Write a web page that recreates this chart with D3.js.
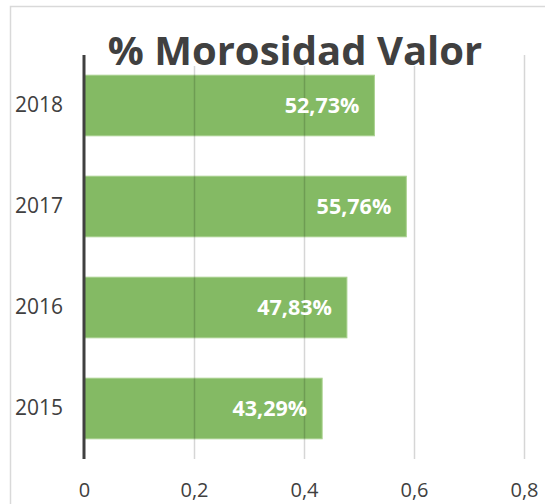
<!DOCTYPE html>
<html>
<head>
<meta charset="utf-8">
<script src="https://cdn.jsdelivr.net/npm/d3@7"></script>
<style>
  body { margin: 0; background: #fff; }
  text { font-family: "Open Sans", sans-serif; }
</style>
</head>
<body>
<svg width="545" height="504"></svg>
<script>
// data
var years = ["2018", "2017", "2016", "2015"];
var barValues = [0.528, 0.586, 0.478, 0.433];
var barLabels = ["52,73%", "55,76%", "47,83%", "43,29%"];
var xTicks = [0, 0.2, 0.4, 0.6, 0.8];
var title = "% Morosidad Valor";

var svg = d3.select("svg"),
  width = +svg.attr("width"),
  height = +svg.attr("height");

var rows = years.map(function(y, i) {
  return { year: y, value: barValues[i], label: barLabels[i] };
});

var x = d3.scaleLinear().domain([0, 0.8]).range([84, 524]);
var y = d3.scaleBand().domain(years).range([55, 459])
  .paddingInner(0.4).paddingOuter(0.2);

var es = d3.formatLocale({ decimal: ",", thousands: ".", grouping: [3], currency: ["", "€"] });
var fmt = es.format("~g");

// chart border
svg.append("rect")
  .attr("x", 10.5).attr("y", 6.5)
  .attr("width", width + 10).attr("height", height + 10)
  .attr("fill", "#fff")
  .attr("stroke", "#d9d9d9")
  .attr("stroke-width", 1.5);

// bars
svg.append("g")
  .selectAll("rect")
  .data(rows)
  .enter()
  .append("rect")
  .attr("x", x(0))
  .attr("y", function(d) { return y(d.year); })
  .attr("width", function(d) { return x(d.value) - x(0); })
  .attr("height", y.bandwidth())
  .attr("fill", "#84ba64")
  .attr("stroke", "#a9d18e")
  .attr("stroke-width", 1);

// gridlines + tick labels, drawn over the bars like the original
var xAxis = svg.append("g")
  .attr("transform", "translate(0,459)")
  .call(d3.axisBottom(x).tickValues(xTicks).tickFormat(fmt)
    .tickSizeInner(-404).tickSizeOuter(0).tickPadding(24));
xAxis.select(".domain").remove();
xAxis.selectAll(".tick line")
  .attr("stroke", "#000")
  .attr("stroke-opacity", function(d) { return d === 0 ? 0 : 0.16; })
  .attr("stroke-width", 1.5);
xAxis.selectAll(".tick text")
  .attr("fill", "#404040")
  .style("font-size", "20px")
  .style("font-family", "'Open Sans', sans-serif");

// value axis line at zero
svg.append("line")
  .attr("x1", x(0)).attr("x2", x(0))
  .attr("y1", 55).attr("y2", 459)
  .attr("stroke", "#404040")
  .attr("stroke-width", 3);

// year labels
var yAxis = svg.append("g")
  .attr("transform", "translate(63,0)")
  .call(d3.axisLeft(y).tickSize(0).tickPadding(0));
yAxis.select(".domain").remove();
yAxis.selectAll(".tick text")
  .attr("fill", "#404040")
  .style("font-size", "21px")
  .style("font-family", "'Open Sans', sans-serif");

// value labels inside bars
svg.append("g")
  .selectAll("text")
  .data(rows)
  .enter()
  .append("text")
  .attr("x", function(d) { return x(d.value) - 15; })
  .attr("y", function(d) { return y(d.year) + y.bandwidth() / 2; })
  .attr("dy", "0.36em")
  .attr("text-anchor", "end")
  .attr("fill", "#fff")
  .style("font-weight", "bold")
  .style("font-size", "21.5px")
  .text(function(d) { return d.label; });

// title with white box behind it
svg.append("rect")
  .attr("x", 100).attr("y", 20)
  .attr("width", 400).attr("height", 46)
  .attr("fill", "#fff");
svg.append("text")
  .attr("x", 295)
  .attr("y", 65)
  .attr("text-anchor", "middle")
  .attr("fill", "#404040")
  .style("font-weight", "bold")
  .style("font-size", "40px")
  .text(title);
</script>
</body>
</html>
